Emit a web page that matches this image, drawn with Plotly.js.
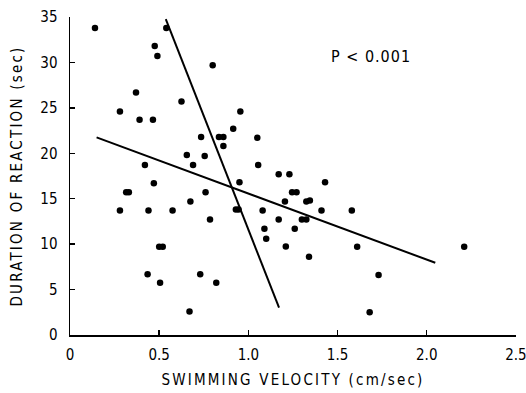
<!DOCTYPE html>
<html>
<head>
<meta charset="utf-8">
<script src="https://cdn.plot.ly/plotly-3.0.1.min.js"></script>
<style>
  html, body { margin: 0; padding: 0; background: #fff; }
  #chart { width: 526px; height: 393px; }
  .g-xtitle text, .g-ytitle text { letter-spacing: 2.2px; }
  .annotation-text { letter-spacing: 1px; }
</style>
</head>
<body>
<div id="chart"></div>
<script>
// Individual observations: swimming velocity (cm/sec) vs duration of reaction (sec)
const velocity = [
  0.14, 0.54, 0.475, 0.49, 0.80, 0.93, 0.37, 0.625, 0.955, 0.28,
  0.39, 0.465, 0.915, 0.735, 0.835, 0.86, 1.05, 0.86, 0.655, 0.755,
  0.42, 0.69, 1.055, 1.17, 1.23, 0.47, 0.95, 1.43, 0.315, 0.33,
  0.76, 1.245, 1.27, 0.675, 1.205, 1.325, 1.345, 0.28, 0.44, 0.575,
  0.93, 0.945, 1.08, 1.41, 1.58, 0.785, 1.17, 1.30, 1.325, 1.09,
  1.26, 1.10, 0.50, 0.52, 1.21, 1.61, 2.21, 1.34, 0.435, 0.73,
  1.73, 0.505, 0.82, 0.67, 1.68
];
const duration = [
  33.8, 33.8, 31.8, 30.7, 29.7, 35.8, 26.7, 25.7, 24.6, 24.6,
  23.7, 23.7, 22.7, 21.8, 21.8, 21.8, 21.7, 20.8, 19.8, 19.7,
  18.7, 18.7, 18.7, 17.7, 17.7, 16.7, 16.8, 16.8, 15.7, 15.7,
  15.7, 15.7, 15.7, 14.7, 14.7, 14.7, 14.8, 13.7, 13.7, 13.7,
  13.8, 13.8, 13.7, 13.7, 13.7, 12.7, 12.7, 12.7, 12.7, 11.7,
  11.7, 10.6, 9.7, 9.7, 9.75, 9.7, 9.7, 8.6, 6.7, 6.7,
  6.6, 5.75, 5.75, 2.6, 2.5
];

// Regression lines (endpoints)
const fitDurOnVelX = [0.149, 2.048];
const fitDurOnVelY = [21.75, 7.95];
const fitVelOnDurX = [0.537, 1.172];
const fitVelOnDurY = [34.76, 3.0];

// Axis ticks
const xTickVals = [0, 0.5, 1.0, 1.5, 2.0, 2.5];
const xTickText = ['0', '0.5', '1.0', '1.5', '2.0', '2.5'];
const yTickVals = [0, 5, 10, 15, 20, 25, 30, 35];

const FONT = 'DejaVu Sans Condensed, DejaVu Sans, Liberation Sans, sans-serif';

const traces = [
  {
    x: velocity, y: duration, type: 'scatter', mode: 'markers',
    marker: { color: '#000', size: 6.5 }, hoverinfo: 'x+y'
  },
  {
    x: fitDurOnVelX, y: fitDurOnVelY, type: 'scatter', mode: 'lines',
    line: { color: '#000', width: 2 }
  },
  {
    x: fitVelOnDurX, y: fitVelOnDurY, type: 'scatter', mode: 'lines',
    line: { color: '#000', width: 2 }
  }
];

const layout = {
  width: 526, height: 393,
  margin: { l: 70, r: 10, t: 17, b: 58 },
  paper_bgcolor: '#fff', plot_bgcolor: '#fff',
  showlegend: false,
  font: { family: FONT, size: 15, color: '#000' },
  xaxis: {
    // a hair past 2.5 so the end tick and its label are kept
    range: [0, 2.5005], showgrid: false, zeroline: false,
    showline: true, linecolor: '#000', linewidth: 1.5,
    ticks: 'inside', ticklen: 5, tickwidth: 1.5, tickcolor: '#000',
    tickvals: xTickVals, ticktext: xTickText,
    tickfont: { family: FONT, size: 15 },
    ticklabelstandoff: 5,
    ticklabeloverflow: 'allow',
    title: { text: 'SWIMMING VELOCITY (cm/sec)', font: { family: FONT, size: 15 }, standoff: 12 }
  },
  yaxis: {
    range: [0, 35.002], showgrid: false, zeroline: false,
    showline: true, linecolor: '#000', linewidth: 1.5,
    ticks: 'inside', ticklen: 5, tickwidth: 1.5, tickcolor: '#000',
    tickvals: yTickVals,
    tickfont: { family: FONT, size: 15 },
    ticklabelstandoff: 8,
    ticklabeloverflow: 'allow',
    title: { text: 'DURATION OF REACTION (sec)', font: { family: FONT, size: 15 }, standoff: 14 }
  },
  annotations: [
    {
      x: 1.69, y: 30.6, xref: 'x', yref: 'y', text: 'P < 0.001',
      showarrow: false, font: { family: FONT, size: 16, color: '#000' }
    }
  ]
};

Plotly.newPlot('chart', traces, layout, { displayModeBar: false, staticPlot: true });
</script>
</body>
</html>
